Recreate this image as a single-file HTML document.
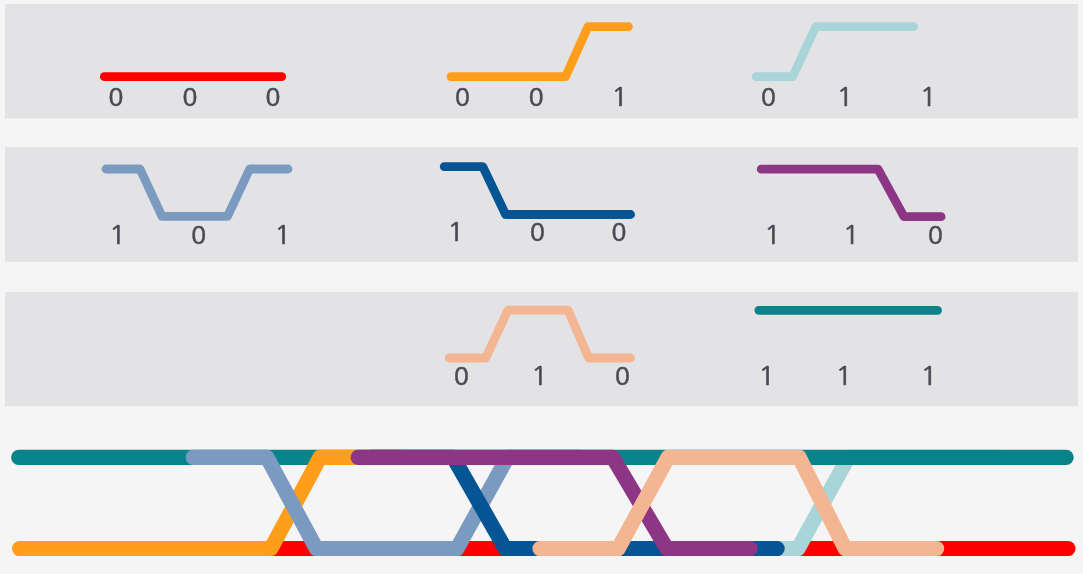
<!DOCTYPE html>
<html lang="en">
<head>
<meta charset="utf-8">
<title>Eye diagram</title>
<style>
html,body{margin:0;padding:0;background:#f5f5f5;}
body{width:1083px;height:574px;overflow:hidden;font-family:"Liberation Sans",sans-serif;}
svg{display:block;}
.p{fill:#e3e3e5;}
.s{fill:none;stroke-width:8.8;stroke-linecap:round;stroke-linejoin:round;}
.b{fill:none;stroke-width:15.1;stroke-linecap:round;stroke-linejoin:round;}
text{font-family:"Liberation Sans",sans-serif;font-size:26px;fill:#4a4a54;stroke:#4a4a54;stroke-width:0.4;text-anchor:middle;}
.o{font-family:"NanumGothic","Liberation Sans",sans-serif;font-size:24.2px;stroke-width:0.6;}
</style>
</head>
<body>
<svg width="1083" height="574" viewBox="0 0 1083 574">
<rect x="0" y="0" width="1083" height="574" fill="#f5f5f5"/>
<rect class="p" x="5" y="4" width="1073" height="114.5"/>
<rect class="p" x="5" y="147.2" width="1073" height="114.6"/>
<rect class="p" x="5" y="291.8" width="1073" height="114.6"/>

<!-- row 1 -->
<path class="s" stroke="#ff0000" d="M104.3 76.7 L281.7 76.7"/>
<text x="116" y="105.55">0</text><text x="190" y="105.55">0</text><text x="273" y="105.55">0</text>

<path class="s" stroke="#ff9e1b" d="M451 76.7 L565.5 76.7 L588 26.6 L628.4 26.6"/>
<text x="462.4" y="105.55">0</text><text x="536.3" y="105.55">0</text><text class="o" transform="translate(619.6 105.5) scale(1.15 1)">1</text>

<path class="s" stroke="#a9d5d9" d="M756.2 76.7 L792.7 76.7 L815.8 26.6 L913.6 26.6"/>
<text x="768.6" y="105.55">0</text><text class="o" transform="translate(845 105.5) scale(1.15 1)">1</text><text class="o" transform="translate(928.2 105.5) scale(1.15 1)">1</text>

<!-- row 2 -->
<path class="s" stroke="#7b9abf" d="M106 169 L140 169 L162 216.3 L227.5 216.3 L249.7 169 L288 169"/>
<text class="o" transform="translate(117.3 243.5) scale(1.15 1)">1</text><text x="198.8" y="243.55">0</text><text class="o" transform="translate(282.7 243.5) scale(1.15 1)">1</text>

<path class="s" stroke="#055594" d="M444.2 166.6 L482.8 166.6 L505.6 214.5 L630.6 214.5"/>
<text class="o" transform="translate(455.6 241.1) scale(1.15 1)">1</text><text x="537.4" y="241.05">0</text><text x="619" y="241.05">0</text>

<path class="s" stroke="#8c3685" d="M761.2 169.1 L878 169.1 L904 216.7 L941.1 216.7"/>
<text class="o" transform="translate(772.5 243.5) scale(1.15 1)">1</text><text class="o" transform="translate(851.1 243.5) scale(1.15 1)">1</text><text x="935.5" y="243.55">0</text>

<!-- row 3 -->
<path class="s" stroke="#f4b593" d="M449.2 358 L485.7 358 L507.9 310.1 L568 310.1 L588.6 358 L630.6 358"/>
<text x="461.5" y="384.75">0</text><text class="o" transform="translate(539.4 384.7) scale(1.15 1)">1</text><text x="622.5" y="384.75">0</text>

<path class="s" stroke="#078489" d="M758.9 310.3 L937.5 310.3"/>
<text class="o" transform="translate(766.6 384.7) scale(1.15 1)">1</text><text class="o" transform="translate(843.8 384.7) scale(1.15 1)">1</text><text class="o" transform="translate(928.8 384.7) scale(1.15 1)">1</text>

<!-- eye diagram -->
<path class="b" stroke="#ff0000" d="M244 548.55 L1068 548.55"/>
<path class="b" stroke="#a9d5d9" d="M781 548.55 L798 548.55 L848.3 457.4 L1000 457.4"/>
<path class="b" stroke="#078489" d="M18.65 457.4 L1066.2 457.4"/>
<path class="b" stroke="#ff9e1b" d="M19.5 548.55 L271 548.55 L320 457.4 L400 457.4"/>
<path class="b" stroke="#7b9abf" d="M193.1 457.4 L267 457.4 L316.4 548.55 L457 548.55 L507.5 457.4 L580 457.4"/>
<path class="b" stroke="#055594" d="M370 457.4 L453.3 457.4 L505.2 548.55 L777.2 548.55"/>
<path class="b" stroke="#8c3685" d="M358.1 457.4 L612.8 457.4 L666.8 548.55 L750.3 548.55"/>
<path class="b" stroke="#f4b593" d="M539.9 548.55 L618.2 548.55 L668 457.4 L799.2 457.4 L845.2 548.55 L936.7 548.55"/>
</svg>
</body>
</html>
